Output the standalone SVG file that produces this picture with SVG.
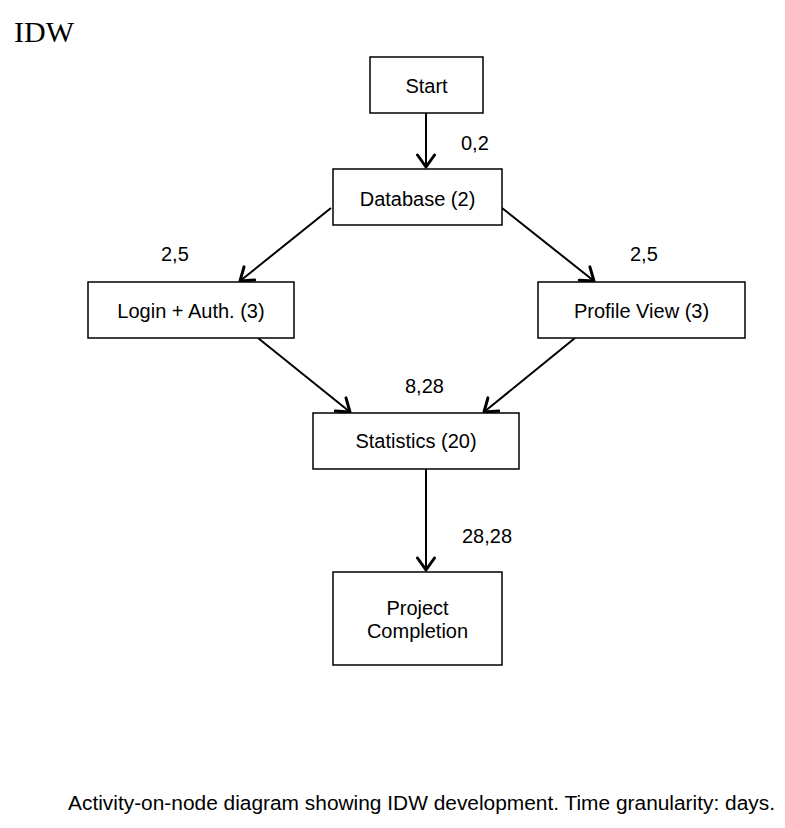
<svg xmlns="http://www.w3.org/2000/svg" width="785" height="828" viewBox="0 0 785 828">
<style>
.box{fill:#fff;stroke:#000;stroke-width:1.5}
.t{font-family:"Liberation Sans",Arial,sans-serif;font-size:20px;fill:#000;text-anchor:middle}
.lbl{font-family:"Liberation Sans",Arial,sans-serif;font-size:20px;fill:#000}
.edge{stroke:#000;stroke-width:2;fill:none}
</style>
<defs>
<marker id="arr" viewBox="-14 -11 16 22" markerWidth="16" markerHeight="22" refX="0" refY="0" orient="auto" markerUnits="userSpaceOnUse">
<path d="M-12,-8.5 L0,0 L-12,8.5" fill="none" stroke="#000" stroke-width="3" stroke-linecap="round" stroke-linejoin="round"/>
</marker>
</defs>
<rect width="785" height="828" fill="#fff"/>
<text x="14" y="42" font-family="'Liberation Serif','Times New Roman',serif" font-size="30" fill="#000">IDW</text>
<g id="connectors">
<line class="edge" x1="426" y1="113" x2="426" y2="167" marker-end="url(#arr)"/>
<line class="edge" x1="331" y1="208" x2="240" y2="281" marker-end="url(#arr)"/>
<line class="edge" x1="502" y1="208" x2="594" y2="281" marker-end="url(#arr)"/>
<line class="edge" x1="258" y1="338" x2="350" y2="412" marker-end="url(#arr)"/>
<line class="edge" x1="575" y1="338" x2="484" y2="412" marker-end="url(#arr)"/>
<line class="edge" x1="426" y1="469" x2="426" y2="570" marker-end="url(#arr)"/>
<text class="lbl" x="461" y="150">0,2</text>
<text class="lbl" x="161" y="261">2,5</text>
<text class="lbl" x="630" y="261">2,5</text>
<text class="lbl" x="405" y="393">8,28</text>
<text class="lbl" x="462" y="543">28,28</text>
</g>
<g id="start"><rect class="box" x="370" y="57" width="113" height="56"/><text class="t" x="426.5" y="93">Start</text></g>
<g id="database"><rect class="box" x="333" y="169" width="169" height="56"/><text class="t" x="417.5" y="206">Database (2)</text></g>
<g id="login"><rect class="box" x="88" y="282" width="206" height="56"/><text class="t" x="191" y="318">Login + Auth. (3)</text></g>
<g id="profile"><rect class="box" x="538" y="282" width="207" height="56"/><text class="t" x="641.5" y="318">Profile View (3)</text></g>
<g id="statistics"><rect class="box" x="313" y="413" width="206" height="56"/><text class="t" x="416" y="448">Statistics (20)</text></g>
<g id="completion"><rect class="box" x="333" y="572" width="169" height="93"/><text class="t" x="417.5" y="615">Project</text><text class="t" x="417.5" y="638">Completion</text></g>
<text x="68" y="810" font-family="'Liberation Sans',Arial,sans-serif" font-size="20" fill="#000" textLength="707" lengthAdjust="spacingAndGlyphs">Activity-on-node diagram showing IDW development. Time granularity: days.</text>
</svg>
